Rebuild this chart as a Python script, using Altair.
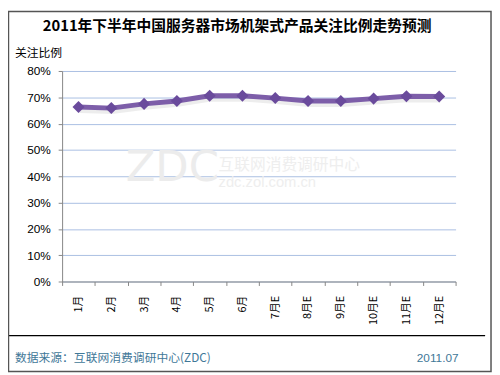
import altair as alt
import pandas as pd

months = ["1月", "2月", "3月", "4月", "5月", "6月", "7月E", "8月E", "9月E", "10月E", "11月E", "12月E"]
values = [0.663, 0.659, 0.675, 0.686, 0.706, 0.706, 0.697, 0.686, 0.686, 0.695, 0.704, 0.703]
y_ticks = [0, 0.1, 0.2, 0.3, 0.4, 0.5, 0.6, 0.7, 0.8]

title_text = "2011年下半年中国服务器市场机架式产品关注比例走势预测"
y_title = "关注比例"
source_text = "数据来源：互联网消费调研中心(ZDC)"
date_text = "2011.07"

df = pd.DataFrame({"month": months, "value": values})
one = pd.DataFrame({"a": [0]})

FONT = "Liberation Sans"
CJK = "Noto Sans CJK SC"

x_enc = alt.X(
    "month:N",
    sort=months,
    bandPosition=0.5,
    scale=alt.Scale(type="band", paddingInner=0, paddingOuter=0),
    axis=alt.Axis(
        title=None,
        labelAngle=-90,
        tickBand="extent",
        domainColor="#868686",
        tickColor="#868686",
        tickSize=4,
        labelPadding=10,
        labelFont=CJK,
        labelFontSize=11,
        labelColor="#000000",
        grid=False,
    ),
)
y_enc = alt.Y(
    "value:Q",
    scale=alt.Scale(domain=[0, 0.8], nice=False, zero=True),
    axis=alt.Axis(
        title=None,
        values=y_ticks,
        format=".0%",
        domainColor="#868686",
        tickColor="#868686",
        tickSize=4,
        labelPadding=8,
        labelFont=FONT,
        labelFontSize=12,
        labelColor="#000000",
        grid=True,
        gridColor="#a9bfe2",
        gridWidth=1,
    ),
)

base = alt.Chart(df).encode(x=x_enc, y=y_enc)

shadow = base.mark_line(color="#000000", opacity=0.07, strokeWidth=6, xOffset=1, yOffset=3)
line = base.mark_line(color="#7d5ea9", strokeWidth=5)
points = base.mark_point(shape="diamond", filled=True, size=150, color="#6a4b9c", opacity=1)

def txt(text, x, y, size, color="#000000", weight="normal", align="left", font=CJK):
    return alt.Chart(one).mark_text(
        text=text, align=align, baseline="middle", fontSize=size,
        fontWeight=weight, color=color, font=font
    ).encode(x=alt.value(x), y=alt.value(y))

wm_big = txt("ZDC", 112, 99, 44, color="#ececec", align="center", font="DejaVu Sans")
wm_cn = txt("互联网消费调研中心", 159, 96, 16, color="#eeeeee")
wm_url = txt("zdc.zol.com.cn", 159, 113, 15, color="#eeeeee", font=FONT)

title = txt(title_text, 178, -46, 15, weight="bold", align="center")
ytitle = txt(y_title, -48, -18, 12)
source = txt(source_text, -48, 292, 12, color="#3f7898")
date = txt(date_text, 403, 292, 12, color="#3f7898", align="right", font=FONT)

sep = alt.Chart(one).mark_rule(color="#000000", strokeWidth=1.5).encode(
    x=alt.value(-55), x2=alt.value(430), y=alt.value(269)
)
border = alt.Chart(one).mark_rect(fill="transparent", stroke="#555555", strokeWidth=1.5).encode(
    x=alt.value(-54.5), x2=alt.value(436), y=alt.value(-60.5), y2=alt.value(305.5)
)

chart = alt.layer(
    wm_big, wm_cn, wm_url, shadow, line, points, title, ytitle, source, date, sep, border
).properties(
    width=400,
    height=214,
    autosize=alt.AutoSizeParams(type="none"),
    padding={"left": 55, "top": 61, "right": 37, "bottom": 92},
    background="#ffffff",
).configure_view(strokeWidth=0)

chart.save("out.html", embed_options={"renderer": "svg", "actions": False})
